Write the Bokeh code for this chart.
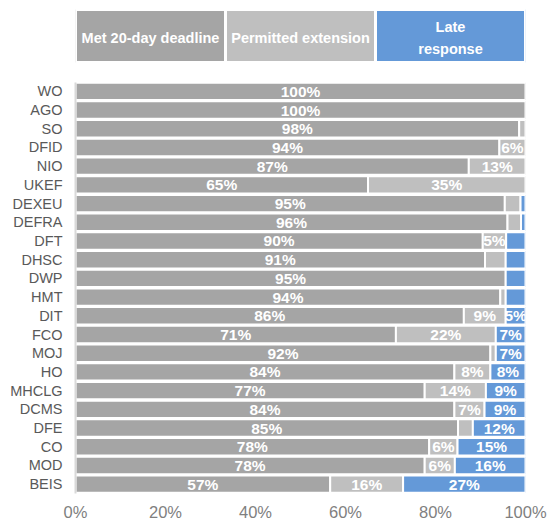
import numpy as np
from bokeh.plotting import figure
from bokeh.models import Range1d, FixedTicker
from bokeh.core.properties import value
from bokeh.embed import file_html
from bokeh.resources import INLINE

departments = ["WO", "AGO", "SO", "DFID", "NIO", "UKEF", "DEXEU", "DEFRA", "DFT", "DHSC",
               "DWP", "HMT", "DIT", "FCO", "MOJ", "HO", "MHCLG", "DCMS", "DFE", "CO", "MOD", "BEIS"]
met = [100, 100, 98.6, 94.2, 87.4, 65.0, 95.4, 96.0, 90.5, 91.0,
       95.6, 94.4, 86.3, 71.2, 92.2, 84.2, 77.6, 84.2, 85.0, 78.6, 77.6, 56.6]
extension = [0, 0, 1.4, 5.8, 12.6, 35.0, 3.5, 3.0, 5.2, 4.6,
             0, 1.2, 9.3, 22.2, 1.2, 8.0, 13.6, 6.7, 3.3, 6.3, 6.7, 16.2]
late = [0, 0, 0, 0, 0, 0, 1.1, 1.0, 4.3, 4.4,
        4.4, 4.4, 4.4, 6.6, 6.6, 7.8, 8.8, 9.1, 11.7, 15.1, 15.7, 27.2]

met_labels = ["100%", "100%", "98%", "94%", "87%", "65%", "95%", "96%", "90%", "91%",
              "95%", "94%", "86%", "71%", "92%", "84%", "77%", "84%", "85%", "78%", "78%", "57%"]
extension_labels = ["", "", "", "6%", "13%", "35%", "", "", "5%", "",
                    "", "", "9%", "22%", "", "8%", "14%", "7%", "", "6%", "6%", "16%"]
late_labels = ["", "", "", "", "", "", "", "", "", "",
               "", "", "5%", "7%", "7%", "8%", "9%", "9%", "12%", "15%", "16%", "27%"]

series_names = ["Met 20-day deadline", "Permitted extension", "Late\nresponse"]
x_ticks = [0, 20, 40, 60, 80, 100]
x_tick_labels = ["0%", "20%", "40%", "60%", "80%", "100%"]

colors = ["#A5A5A5", "#BFBFBF", "#6499D8"]
FONT = "Liberation Sans"

# layout (pixels)
W, H = 551, 523
LEFT, RIGHT, BOTTOM = 75, 26, 30
n = len(departments)
frame_h = H - BOTTOM
header_px = 81.5                            # space above the bars
row_px = (frame_h - header_px) / n
y_top = n - 0.5 + header_px / row_px
hdr_top = n - 0.5 + (header_px - 9) / row_px
hdr_bottom = n - 0.5 + (header_px - 62) / row_px

p = figure(width=W, height=H, x_range=Range1d(0, 100), y_range=Range1d(-0.5, y_top),
           output_backend="svg", toolbar_location=None,
           min_border_left=LEFT, min_border_right=RIGHT,
           min_border_top=0, min_border_bottom=BOTTOM)
p.grid.visible = False
p.outline_line_color = None

# header legend boxes
k = len(series_names)
h_left = [i * 100 / k for i in range(k)]
h_right = [(i + 1) * 100 / k for i in range(k)]
p.quad(left=h_left, right=h_right, bottom=hdr_bottom, top=hdr_top,
       fill_color=colors, line_color="white", line_width=3)
p.text(x=[(a + b) / 2 for a, b in zip(h_left, h_right)], y=(hdr_top + hdr_bottom) / 2 - 0.1,
       text=series_names, text_align="center", text_baseline="middle", text_color="white",
       text_font=value(FONT), text_font_style="bold", text_font_size="14.5px",
       text_line_height=1.35)

# bars
ypos = np.arange(n)[::-1].astype(float)   # first department at the top
m = np.array(met, dtype=float)
e = np.array(extension, dtype=float)
l = np.array(late, dtype=float)
starts = [np.zeros_like(m), m, m + e]
ends = [m, m + e, m + e + l]
label_sets = [met_labels, extension_labels, late_labels]

for s, t, c, labs in zip(starts, ends, colors, label_sets):
    mask = (t - s) > 0
    p.hbar(y=ypos[mask], left=s[mask], right=t[mask], height=0.93,
           fill_color=c, line_color="white", line_width=2)
    labs = np.array(labs)
    lm = labs != ""
    p.text(x=((s + t) / 2)[lm], y=ypos[lm], text=list(labs[lm]),
           text_align="center", text_baseline="middle", text_color="white",
           text_font=value(FONT), text_font_style="bold", text_font_size="15.5px")

# y axis (categories)
p.yaxis.ticker = FixedTicker(ticks=list(ypos))
p.yaxis.major_label_overrides = {float(yv): d for yv, d in zip(ypos, departments)}
p.yaxis.bounds = (-0.5, n - 0.5)
p.yaxis.axis_line_color = "#D9D9D9"
p.yaxis.axis_line_width = 2
p.yaxis.major_tick_line_color = None
p.yaxis.major_tick_out = 0
p.yaxis.minor_tick_line_color = None
p.yaxis.minor_tick_out = 0
p.yaxis.major_label_text_font = FONT
p.yaxis.major_label_text_font_size = "14.5px"
p.yaxis.major_label_text_color = "#595959"
p.yaxis.major_label_standoff = 13

# x axis
p.xaxis.ticker = FixedTicker(ticks=x_ticks)
p.xaxis.major_label_overrides = dict(zip(x_ticks, x_tick_labels))
p.xaxis.axis_line_color = None
p.xaxis.major_tick_line_color = None
p.xaxis.major_tick_out = 0
p.xaxis.minor_tick_line_color = None
p.xaxis.minor_tick_out = 0
p.xaxis.major_label_text_font = FONT
p.xaxis.major_label_text_font_size = "16.5px"
p.xaxis.major_label_text_color = "#7F7F7F"
p.xaxis.major_label_standoff = 9

open("out.html", "w").write(file_html(p, INLINE))
